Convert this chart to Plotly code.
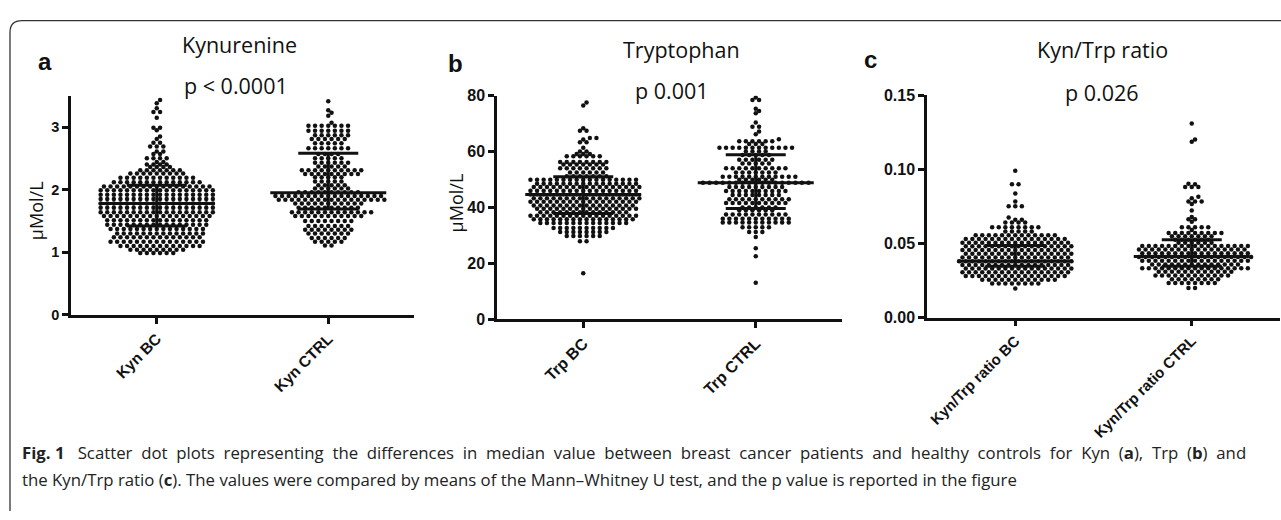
import plotly.graph_objects as go

W, H = 1281, 520

# ---------------- data ----------------
# Each group: row levels (value) and number of dots in that row
KYN_BC_LEVELS = [3.43, 3.38, 3.30, 3.24, 3.15, 2.99, 2.95, 2.85, 2.81, 2.75, 2.69, 2.61, 2.57, 2.50,
                 2.44, 2.40, 2.36, 2.31, 2.26, 2.19, 2.12, 2.05, 1.99, 1.92, 1.85, 1.78, 1.71, 1.64,
                 1.58, 1.51, 1.44, 1.37, 1.30, 1.24, 1.17, 1.10, 1.04, 0.99]
KYN_BC_COUNTS = [1, 1, 1, 2, 1, 2, 1, 1, 1, 2, 3, 2, 2, 4,
                 2, 4, 4, 7, 9, 12, 14, 17, 18, 18, 18, 18, 18, 18,
                 17, 16, 16, 15, 14, 14, 15, 13, 9, 6]
KYN_CTRL_LEVELS = [3.41, 3.27, 3.23, 3.18, 3.07, 3.02, 2.94, 2.87, 2.81, 2.74, 2.66, 2.57, 2.50, 2.43,
                   2.37, 2.31, 2.25, 2.20, 2.13, 2.07, 2.02, 1.96, 1.90, 1.84, 1.78, 1.71, 1.64, 1.58,
                   1.50, 1.42, 1.36, 1.30, 1.23, 1.17, 1.11]
KYN_CTRL_COUNTS = [1, 1, 1, 1, 1, 7, 7, 6, 6, 5, 7, 4, 5, 6,
                   5, 10, 9, 5, 5, 5, 6, 10, 17, 17, 11, 10, 13, 11,
                   8, 7, 8, 7, 6, 5, 2]

TRP_BC_LEVELS = [77.6, 76.5, 68.4, 67.5, 64.9, 64.3, 63.3, 61.4, 60.0, 59.1, 58.3, 56.3, 55.4, 54.0,
                 52.5, 51.2, 49.9, 48.5, 47.3, 46.0, 44.6, 43.3, 42.0, 40.7, 39.5, 38.3, 37.0, 35.8,
                 34.4, 32.6, 31.2, 29.8, 27.9, 16.4]
TRP_BC_COUNTS = [1, 1, 1, 2, 2, 1, 2, 1, 2, 3, 6, 8, 7, 8,
                 6, 7, 17, 16, 17, 17, 17, 17, 17, 16, 16, 14, 17, 16,
                 14, 10, 8, 6, 2, 1]
TRP_CTRL_LEVELS = [79.4, 78.5, 75.3, 74.5, 73.7, 70.4, 68.9, 67.2, 66.2, 64.4, 63.7, 62.7, 61.4, 60.0,
                   58.8, 57.1, 55.7, 54.0, 52.5, 51.0, 49.9, 48.8, 47.3, 45.9, 44.5, 42.9, 41.6, 40.0,
                   39.0, 37.5, 36.0, 34.6, 32.9, 31.2, 29.4, 25.4, 22.5, 13.0]
TRP_CTRL_COUNTS = [1, 2, 1, 1, 1, 1, 2, 1, 1, 1, 6, 3, 12, 4,
                   5, 6, 5, 10, 7, 12, 6, 17, 9, 10, 8, 10, 10, 6,
                   6, 10, 11, 11, 5, 3, 1, 1, 1, 1]

RATIO_BC_LEVELS = [0.0989, 0.0898, 0.0837, 0.0783, 0.0750, 0.0674, 0.0660, 0.0641, 0.0609, 0.0580,
                   0.0555, 0.0530, 0.0505, 0.0480, 0.0455, 0.0430, 0.0405, 0.0380, 0.0355, 0.0330,
                   0.0305, 0.0280, 0.0255, 0.0230, 0.0196]
RATIO_BC_COUNTS = [1, 2, 1, 1, 3, 1, 2, 4, 8, 5,
                   13, 16, 17, 17, 17, 17, 17, 18, 17, 17,
                   17, 16, 12, 8, 1]
RATIO_CTRL_LEVELS = [0.1309, 0.1200, 0.1185, 0.0902, 0.0898, 0.0880, 0.0815, 0.0804, 0.0783, 0.0765,
                     0.0722, 0.0678, 0.0663, 0.0646, 0.0609, 0.0590, 0.0570, 0.0548, 0.0525, 0.0504,
                     0.0483, 0.0458, 0.0433, 0.0408, 0.0383, 0.0358, 0.0333, 0.0308, 0.0283, 0.0258,
                     0.0233, 0.0200]
RATIO_CTRL_COUNTS = [1, 1, 1, 1, 1, 3, 1, 1, 3, 1,
                     1, 1, 2, 1, 5, 1, 9, 7, 6, 6,
                     17, 17, 17, 18, 17, 14, 17, 12, 12, 8,
                     8, 2]

# median, lower and upper bar (as drawn)
KYN_STATS = {"median": [1.78, 1.95], "low": [1.42, 1.69], "high": [2.07, 2.58]}
TRP_STATS = {"median": [44.6, 48.8], "low": [37.8, 39.6], "high": [51.0, 58.9]}
RATIO_STATS = {"median": [0.0380, 0.0412], "low": [0.0346, 0.0346], "high": [0.0485, 0.0525]}

KYN_CATS = ["Kyn BC", "Kyn CTRL"]
TRP_CATS = ["Trp BC", "Trp CTRL"]
RATIO_CATS = ["Kyn/Trp ratio BC", "Kyn/Trp ratio CTRL"]

TITLES = ["Kynurenine", "Tryptophan", "Kyn/Trp ratio"]
PVALUES = ["p < 0.0001", "p 0.001", "p 0.026"]
LETTERS = ["a", "b", "c"]
Y_TITLE = "μMol/L"

# ---------------- layout geometry (pixels) ----------------
PANELS = [
    dict(x0=71, x1=414, y0=317.3, y1=90.7, yrange=[0, 3.5], ticks=[0, 1, 2, 3], fmt="d", tfs=14.5,
         levels=[KYN_BC_LEVELS, KYN_CTRL_LEVELS], counts=[KYN_BC_COUNTS, KYN_CTRL_COUNTS],
         stats=KYN_STATS, cats=KYN_CATS, cfs=15.5,
         title_xy=(239, 38), p_xy=(236, 80), letter_xy=(45, 55), ytitle_xy=(36, 210)),
    dict(x0=497, x1=842, y0=321.7, y1=90.7, yrange=[0, 80], ticks=[0, 20, 40, 60, 80], fmt="d", tfs=16,
         levels=[TRP_BC_LEVELS, TRP_CTRL_LEVELS], counts=[TRP_BC_COUNTS, TRP_CTRL_COUNTS],
         stats=TRP_STATS, cats=TRP_CATS, cfs=16,
         title_xy=(681, 43), p_xy=(672, 85), letter_xy=(455, 57), ytitle_xy=(456, 202)),
    dict(x0=927, x1=1280, y0=320, y1=90, yrange=[0, 0.15], ticks=[0, 0.05, 0.10, 0.15], fmt=".2f", tfs=16,
         levels=[RATIO_BC_LEVELS, RATIO_CTRL_LEVELS], counts=[RATIO_BC_COUNTS, RATIO_CTRL_COUNTS],
         stats=RATIO_STATS, cats=RATIO_CATS, cfs=15,
         title_xy=(1102, 43), p_xy=(1102, 87), letter_xy=(870, 53), ytitle_xy=None),
]

DOT = 4.5          # dot diameter px
DOT_SPACING = 6.6  # horizontal spacing px
MED_HALF = 58      # median line half width px
CAP_HALF = 30      # cap half width px
INK = "#111111"


def px_x(p):
    return p / W


def px_y(p):
    return 1 - p / H


def swarm(levels, counts, ypu):
    """Row layout: each row centred, shifted sideways if it would collide."""
    rows = sorted(zip(levels, counts), key=lambda r: r[0])
    placed = []
    out_x, out_y = [], []
    lim = 4.0
    for lev, n in rows:
        ypx = lev * ypu
        base = [(i - (n - 1) / 2) * DOT_SPACING for i in range(n)]
        shifts = [0]
        for k in range(1, 30):
            shifts += [k * DOT_SPACING / 2, -k * DOT_SPACING / 2]
        for s in shifts:
            cand = [b + s for b in base]
            ok = True
            for (qx, qy) in placed:
                if abs(qy - ypx) >= lim:
                    continue
                for cx in cand:
                    if (cx - qx) ** 2 + (ypx - qy) ** 2 < lim ** 2:
                        ok = False
                        break
                if not ok:
                    break
            if ok:
                break
        for cx in cand:
            placed.append((cx, ypx))
            out_x.append(cx)
            out_y.append(lev)
    return out_x, out_y


fig = go.Figure()
layout = dict(width=W, height=H, autosize=False, margin=dict(l=0, r=0, t=0, b=0),
              paper_bgcolor="white", plot_bgcolor="white", showlegend=False)
annotations = []

for k, P in enumerate(PANELS):
    sfx = "" if k == 0 else str(k + 1)
    xa, ya = "x" + sfx, "y" + sfx
    xpu = (P["x1"] - P["x0"]) / 2.0
    ypu = (P["y0"] - P["y1"]) / (P["yrange"][1] - P["yrange"][0])
    for g in range(2):
        ox, oy = swarm(P["levels"][g], P["counts"][g], ypu)
        fig.add_trace(go.Scatter(x=[g + v / xpu for v in ox], y=oy, mode="markers",
                                 marker=dict(size=DOT, color=INK, line=dict(width=0)),
                                 xaxis=xa, yaxis=ya, hoverinfo="skip"))
        med = P["stats"]["median"][g]
        lo = P["stats"]["low"][g]
        hi = P["stats"]["high"][g]
        mh = MED_HALF / xpu
        ch = CAP_HALF / xpu
        fig.add_trace(go.Scatter(
            x=[g - mh, g + mh, None, g - ch, g + ch, None, g - ch, g + ch, None, g, g],
            y=[med, med, None, hi, hi, None, lo, lo, None, lo, hi],
            mode="lines", line=dict(color=INK, width=3),
            xaxis=xa, yaxis=ya, hoverinfo="skip"))

    axis_common = dict(showline=True, linecolor=INK, linewidth=2.5, ticks="outside", ticklen=6,
                       tickwidth=2.5, tickcolor=INK, showgrid=False, zeroline=False)
    layout["xaxis" + sfx] = dict(
        axis_common, domain=[px_x(P["x0"]), px_x(P["x1"])], range=[-0.5, 1.5],
        tickvals=[0, 1], ticktext=P["cats"], tickangle=-45, anchor=ya,
        tickfont=dict(family="Liberation Sans, Arial", size=P["cfs"], color=INK, weight="bold"))
    layout["yaxis" + sfx] = dict(
        axis_common, domain=[px_y(P["y0"]), px_y(P["y1"])], range=P["yrange"],
        tickvals=P["ticks"], tickformat=P["fmt"], anchor=xa,
        tickfont=dict(family="Liberation Sans, Arial", size=P["tfs"], color=INK, weight="bold"))

    tx, ty = P["title_xy"]
    annotations.append(dict(text=TITLES[k], x=px_x(tx), y=px_y(ty), xref="paper", yref="paper",
                            showarrow=False, xanchor="center", yanchor="middle",
                            font=dict(family="Open Sans", size=21.5, color=INK)))
    tx, ty = P["p_xy"]
    annotations.append(dict(text=PVALUES[k], x=px_x(tx), y=px_y(ty), xref="paper", yref="paper",
                            showarrow=False, xanchor="center", yanchor="middle",
                            font=dict(family="Open Sans", size=21.5, color=INK)))
    tx, ty = P["letter_xy"]
    annotations.append(dict(text="<b>%s</b>" % LETTERS[k], x=px_x(tx), y=px_y(ty), xref="paper",
                            yref="paper", showarrow=False, xanchor="center", yanchor="middle",
                            font=dict(family="Liberation Sans, Arial", size=24, color=INK)))
    if P["ytitle_xy"]:
        tx, ty = P["ytitle_xy"]
        annotations.append(dict(text=Y_TITLE, x=px_x(tx), y=px_y(ty), xref="paper", yref="paper",
                                showarrow=False, xanchor="center", yanchor="middle", textangle=-90,
                                font=dict(family="Open Sans", size=18, color=INK)))

CAPTION_1_WORDS = ("Scatter dot plots representing the differences in median value between "
                   "breast cancer patients and healthy controls for Kyn (<b>a</b>), Trp (<b>b</b>) and").split(" ")
CAPTION_1 = "<b>Fig. 1</b>&nbsp;&nbsp; " + " &nbsp;".join(CAPTION_1_WORDS)  # justified line
CAPTION_2 = ("the Kyn/Trp ratio (<b>c</b>). The values were compared by means of the Mann–Whitney U test, "
             "and the p value is reported in the figure")
for txt, yy in [(CAPTION_1, 460), (CAPTION_2, 487)]:
    annotations.append(dict(text=txt, x=px_x(20), y=px_y(yy), xref="paper", yref="paper",
                            showarrow=False, xanchor="left", yanchor="middle",
                            font=dict(family="Open Sans", size=16.8, color="#222222")))

layout["annotations"] = annotations
# rounded frame (top + left edges)
r = 12
path = "M %f,%f L %f,%f Q %f,%f %f,%f L %f,%f" % (
    px_x(10), px_y(H), px_x(10), px_y(13 + r), px_x(10), px_y(13), px_x(10 + r), px_y(13),
    px_x(W), px_y(13))
layout["shapes"] = [dict(type="path", path=path, xref="paper", yref="paper",
                         line=dict(color="#333333", width=1.3))]
fig.update_layout(**layout)
fig.write_html("out.html", config={"displayModeBar": False},
               post_script="document.body.style.margin='0';document.body.style.overflow='hidden';")
